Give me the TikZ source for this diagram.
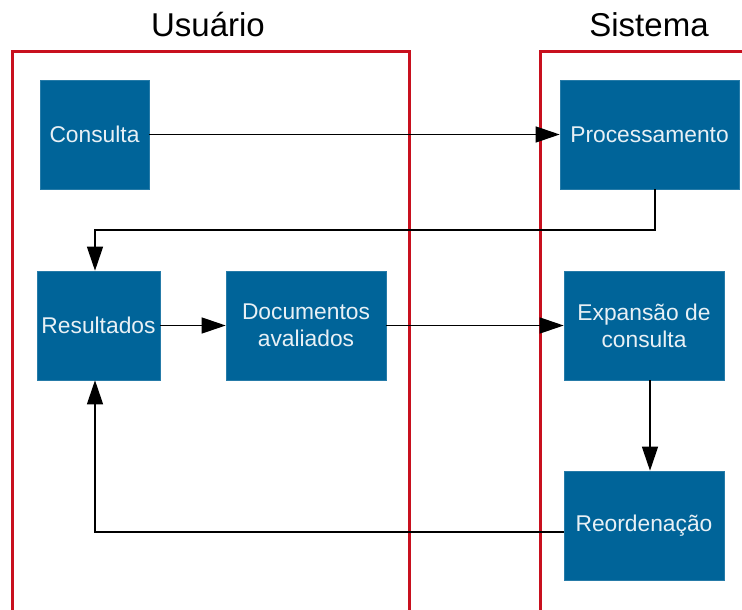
\documentclass[tikz,border=0pt]{standalone}
\usepackage{fontspec}
\setmainfont{Liberation Sans}
\usetikzlibrary{arrows.meta,calc}
\definecolor{boxblue}{HTML}{006499}
\definecolor{boxtext}{HTML}{E8F0F5}
\definecolor{lanered}{HTML}{C8101E}
\tikzset{
  procbox/.style={draw=boxblue!85!white, line width=0.6pt, fill=boxblue,
    text=boxtext, font=\fontsize{22.8}{27}\selectfont, align=center,
    inner sep=0pt, minimum height=109pt},
  laneframe/.style={draw=lanered, line width=3pt, line join=miter},
  lanetitle/.style={font=\fontsize{33}{38}\selectfont, text=black},
  flow/.style={draw=black, line width=1.3pt,
    -{Triangle[length=24pt,width=16pt]}},
}
\begin{document}
\begin{tikzpicture}[x=1pt,y=-1pt]
  \useasboundingbox (0,0) rectangle (742,610);
  % swimlanes
  \path[laneframe] (12,615) -- (12,52) -- (409,52) -- (409,615);
  \path[laneframe] (540,615) -- (540,52) -- (747,52);
  \node[lanetitle] (tuser) at (208,25) {Usuário};
  \node[lanetitle] (tsys) at (649,25) {Sistema};
  % process boxes
  \node[procbox, minimum width=109pt] (cons) at (94.5,134.5) {Consulta};
  \node[procbox, minimum width=179pt] (proc) at (649.5,134.5) {Processamento};
  \node[procbox, minimum width=123pt] (res) at (98.5,325.5) {Resultados};
  \node[procbox, minimum width=160pt] (docs) at (306,325.5) {Documentos\\avaliados};
  \node[procbox, minimum width=160pt] (exp) at (644,325.5) {Expansão de\\consulta};
  \node[procbox, minimum width=160pt] (reo) at (644,525.5) {Reordenação};
  % routing points
  \coordinate (back) at (95,230);
  % connectors
  \draw[flow] (cons.east) -- (proc.west);
  \draw[flow] ([xshift=5.5pt]proc.south) |- (back) -- ([xshift=-3.5pt]res.north);
  \draw[flow] (res.east) -- (docs.west);
  \draw[flow] (docs.east) -- (exp.west);
  \draw[flow] ([xshift=6pt]exp.south) -- ([xshift=6pt]reo.north);
  \draw[flow] ([yshift=-6.5pt]reo.west) -| ([xshift=-3.5pt]res.south);
\end{tikzpicture}
\end{document}
